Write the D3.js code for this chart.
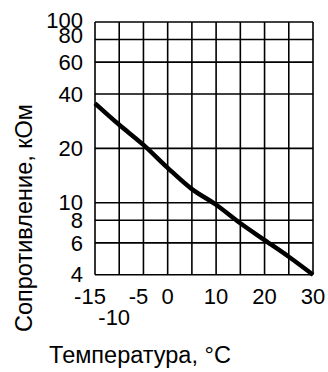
<!DOCTYPE html>
<html><head><meta charset="utf-8">
<script src="https://cdn.jsdelivr.net/npm/d3@7"></script>
<style>body{margin:0;background:#fff}svg{display:block}text{font-family:"Liberation Sans",Arial,sans-serif;fill:#000}</style>
</head><body>
<script>
const temperatures = [-15, -10, -5, 0, 5, 10, 15, 20, 25, 30];
const resistance = [35.5, 27.0, 20.9, 15.6, 11.9, 9.75, 7.7, 6.22, 5.03, 4.0];
const yTicks = [4, 6, 8, 10, 20, 40, 60, 80, 100];
const xGrid = [-15, -10, -5, 0, 5, 10, 15, 20, 25, 30];
const xLabelsRow1 = [-15, -5, 0, 10, 20, 30];
const xLabelsRow2 = [-10];
const xTitle = "Температура, °C";
const yTitle = "Сопротивление, кОм";

const W = 328, H = 372;
const m = {left: 95, right: 313, top: 22, bottom: 274.7};
const svg = d3.select("body").append("svg").attr("width", W).attr("height", H);
svg.append("rect").attr("width", W).attr("height", H).attr("fill", "#fff");

const x = d3.scaleLinear().domain([-15, 30]).range([m.left, m.right]);
const y = d3.scaleLog().domain([4, 100]).range([m.bottom, m.top]);

const fs = 22, tfs = 23.5;
const grid = svg.append("g").attr("stroke", "#000").attr("stroke-width", 1.6);
grid.selectAll(".v").data(xGrid).join("line")
  .attr("x1", d => x(d)).attr("x2", d => x(d))
  .attr("y1", y(4)).attr("y2", y(100));
grid.selectAll(".h").data(yTicks).join("line")
  .attr("y1", d => y(d)).attr("y2", d => y(d))
  .attr("x1", x(-15)).attr("x2", x(30));

// y tick labels
const yOffset = {100: -1.5, 80: -4};
svg.append("g").selectAll("text").data(yTicks).join("text")
  .attr("x", m.left - 12)
  .attr("y", d => y(d) + (yOffset[d] || 0))
  .attr("dy", "0.35em")
  .attr("text-anchor", "end")
  .attr("font-size", fs)
  .text(d => String(d));

// x tick labels
const fmt = d => (d < 0 ? "-" + Math.abs(d) : String(d));
function xLabels(data, baseline) {
  svg.append("g").selectAll("text").data(data).join("text")
    .attr("x", d => x(d) + (d < 0 ? -5 : 0))
    .attr("y", baseline)
    .attr("text-anchor", "middle")
    .attr("font-size", fs)
    .text(fmt);
}
xLabels(xLabelsRow1, 304);
xLabels(xLabelsRow2, 325);

// curve
const line = d3.line().x((d, i) => x(temperatures[i])).y(d => y(d)).curve(d3.curveCatmullRom.alpha(0.5));
svg.append("path").datum(resistance).attr("d", line)
  .attr("fill", "none").attr("stroke", "#000").attr("stroke-width", 4.5)
  .attr("stroke-linejoin", "round");

// titles
svg.append("text").attr("x", 140).attr("y", 363).attr("text-anchor", "middle")
  .attr("font-size", tfs).text(xTitle);
svg.append("text").attr("transform", "translate(32,218) rotate(-90)")
  .attr("text-anchor", "middle").attr("font-size", tfs).text(yTitle);
</script>
</body></html>
